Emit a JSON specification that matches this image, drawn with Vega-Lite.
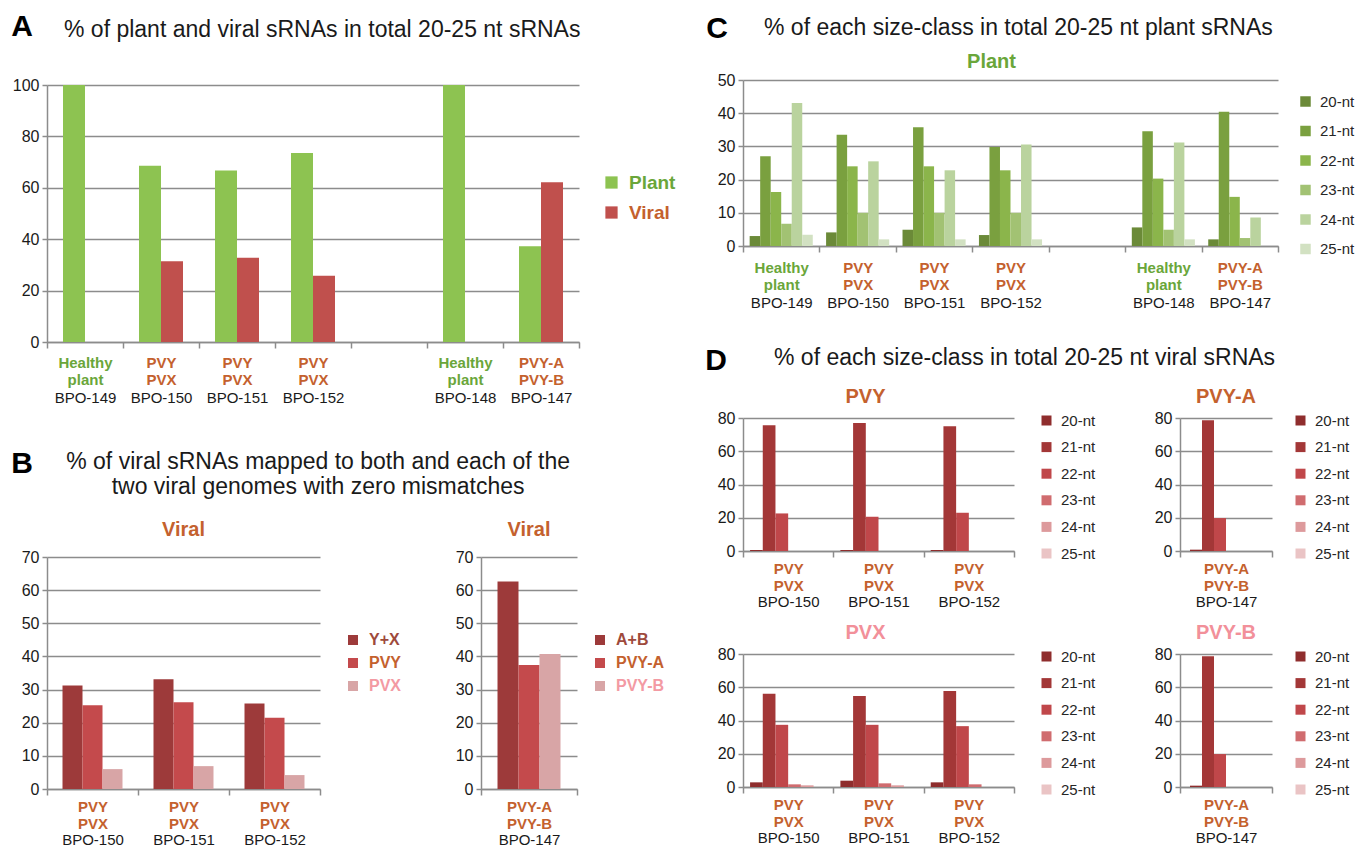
{
  "$schema": "https://vega.github.io/schema/vega-lite/v6.json",
  "background": "white",
  "padding": {"left": 11, "top": 12, "right": 2, "bottom": 2},
  "spacing": 29,
  "resolve": {"scale": {"color": "independent", "xOffset": "independent"}, "legend": {"color": "independent"}},
  "config": {
    "font": "Liberation Sans",
    "view": {"stroke": null},
    "bar": {"stroke": null},
    "axis": {"labelFont": "Liberation Sans", "labelFontSize": 15, "labelColor": "#1a1a1a"},
    "axisX": {"tickBand": "extent", "labelAngle": 0, "grid": false, "domainColor": "#8c8c8c", "domainWidth": 1.5, "tickColor": "#8c8c8c", "tickWidth": 1.5, "tickSize": 6, "labelLineHeight": 17.5},
    "axisY": {"gridColor": "#8c8c8c", "gridWidth": 1.4, "domainColor": "#8c8c8c", "domainWidth": 1.5, "tickColor": "#8c8c8c", "tickWidth": 1.5, "tickSize": 5, "labelPadding": 3, "labelFontSize": 16},
    "legend": {"symbolType": "square", "symbolStrokeWidth": 0, "labelFontSize": 15, "labelColor": "#262626", "orient": "none", "labelFont": "Liberation Sans"},
    "title": {"fontWeight": "bold", "color": "#1a1a1a", "font": "Liberation Sans"}
  },
  "datasets": {
    "A": [
      {"sample": "BPO-149", "series": "Plant", "value": 100}, {"sample": "BPO-149", "series": "Viral", "value": 0},
      {"sample": "BPO-150", "series": "Plant", "value": 68.6}, {"sample": "BPO-150", "series": "Viral", "value": 31.4},
      {"sample": "BPO-151", "series": "Plant", "value": 66.7}, {"sample": "BPO-151", "series": "Viral", "value": 32.8},
      {"sample": "BPO-152", "series": "Plant", "value": 73.5}, {"sample": "BPO-152", "series": "Viral", "value": 25.8},
      {"sample": "BPO-148", "series": "Plant", "value": 100}, {"sample": "BPO-148", "series": "Viral", "value": 0},
      {"sample": "BPO-147", "series": "Plant", "value": 37.3}, {"sample": "BPO-147", "series": "Viral", "value": 62.2}
    ],
    "B1": [
      {"sample": "BPO-150", "series": "Y+X", "value": 31.2}, {"sample": "BPO-150", "series": "PVY", "value": 25.3}, {"sample": "BPO-150", "series": "PVX", "value": 6.0},
      {"sample": "BPO-151", "series": "Y+X", "value": 33.1}, {"sample": "BPO-151", "series": "PVY", "value": 26.2}, {"sample": "BPO-151", "series": "PVX", "value": 6.9},
      {"sample": "BPO-152", "series": "Y+X", "value": 25.8}, {"sample": "BPO-152", "series": "PVY", "value": 21.5}, {"sample": "BPO-152", "series": "PVX", "value": 4.2}
    ],
    "B2": [
      {"sample": "BPO-147", "series": "A+B", "value": 62.6}, {"sample": "BPO-147", "series": "PVY-A", "value": 37.4}, {"sample": "BPO-147", "series": "PVY-B", "value": 40.7}
    ],
    "C": [
      {"sample": "BPO-149", "series": "20-nt", "value": 3.0}, {"sample": "BPO-149", "series": "21-nt", "value": 27.0}, {"sample": "BPO-149", "series": "22-nt", "value": 16.3}, {"sample": "BPO-149", "series": "23-nt", "value": 6.7}, {"sample": "BPO-149", "series": "24-nt", "value": 43.1}, {"sample": "BPO-149", "series": "25-nt", "value": 3.4},
      {"sample": "BPO-150", "series": "20-nt", "value": 4.1}, {"sample": "BPO-150", "series": "21-nt", "value": 33.5}, {"sample": "BPO-150", "series": "22-nt", "value": 24.0}, {"sample": "BPO-150", "series": "23-nt", "value": 10.0}, {"sample": "BPO-150", "series": "24-nt", "value": 25.5}, {"sample": "BPO-150", "series": "25-nt", "value": 2.0},
      {"sample": "BPO-151", "series": "20-nt", "value": 4.9}, {"sample": "BPO-151", "series": "21-nt", "value": 35.8}, {"sample": "BPO-151", "series": "22-nt", "value": 24.0}, {"sample": "BPO-151", "series": "23-nt", "value": 10.0}, {"sample": "BPO-151", "series": "24-nt", "value": 22.8}, {"sample": "BPO-151", "series": "25-nt", "value": 2.0},
      {"sample": "BPO-152", "series": "20-nt", "value": 3.3}, {"sample": "BPO-152", "series": "21-nt", "value": 29.8}, {"sample": "BPO-152", "series": "22-nt", "value": 22.8}, {"sample": "BPO-152", "series": "23-nt", "value": 10.0}, {"sample": "BPO-152", "series": "24-nt", "value": 30.6}, {"sample": "BPO-152", "series": "25-nt", "value": 2.0},
      {"sample": "BPO-148", "series": "20-nt", "value": 5.6}, {"sample": "BPO-148", "series": "21-nt", "value": 34.6}, {"sample": "BPO-148", "series": "22-nt", "value": 20.3}, {"sample": "BPO-148", "series": "23-nt", "value": 4.9}, {"sample": "BPO-148", "series": "24-nt", "value": 31.2}, {"sample": "BPO-148", "series": "25-nt", "value": 2.0},
      {"sample": "BPO-147", "series": "20-nt", "value": 2.0}, {"sample": "BPO-147", "series": "21-nt", "value": 40.4}, {"sample": "BPO-147", "series": "22-nt", "value": 14.8}, {"sample": "BPO-147", "series": "23-nt", "value": 2.4}, {"sample": "BPO-147", "series": "24-nt", "value": 8.6}, {"sample": "BPO-147", "series": "25-nt", "value": 0}
    ],
    "Dpvy": [
      {"sample": "BPO-150", "series": "20-nt", "value": 0.6}, {"sample": "BPO-150", "series": "21-nt", "value": 75.6}, {"sample": "BPO-150", "series": "22-nt", "value": 22.6},
      {"sample": "BPO-151", "series": "20-nt", "value": 0.6}, {"sample": "BPO-151", "series": "21-nt", "value": 77.0}, {"sample": "BPO-151", "series": "22-nt", "value": 20.6},
      {"sample": "BPO-152", "series": "20-nt", "value": 0.6}, {"sample": "BPO-152", "series": "21-nt", "value": 75.0}, {"sample": "BPO-152", "series": "22-nt", "value": 23.0}
    ],
    "Dpvya": [
      {"sample": "BPO-147", "series": "20-nt", "value": 0.8}, {"sample": "BPO-147", "series": "21-nt", "value": 78.6}, {"sample": "BPO-147", "series": "22-nt", "value": 19.8}
    ],
    "Dpvx": [
      {"sample": "BPO-150", "series": "20-nt", "value": 2.8}, {"sample": "BPO-150", "series": "21-nt", "value": 56.1}, {"sample": "BPO-150", "series": "22-nt", "value": 37.4}, {"sample": "BPO-150", "series": "23-nt", "value": 1.6}, {"sample": "BPO-150", "series": "24-nt", "value": 1.0},
      {"sample": "BPO-151", "series": "20-nt", "value": 3.8}, {"sample": "BPO-151", "series": "21-nt", "value": 54.7}, {"sample": "BPO-151", "series": "22-nt", "value": 37.4}, {"sample": "BPO-151", "series": "23-nt", "value": 2.2}, {"sample": "BPO-151", "series": "24-nt", "value": 1.0},
      {"sample": "BPO-152", "series": "20-nt", "value": 2.8}, {"sample": "BPO-152", "series": "21-nt", "value": 57.7}, {"sample": "BPO-152", "series": "22-nt", "value": 36.6}, {"sample": "BPO-152", "series": "23-nt", "value": 1.6}
    ],
    "Dpvyb": [
      {"sample": "BPO-147", "series": "20-nt", "value": 0.8}, {"sample": "BPO-147", "series": "21-nt", "value": 78.6}, {"sample": "BPO-147", "series": "22-nt", "value": 19.8}
    ]
  },
  "hconcat": [
    {
      "spacing": 44,
      "resolve": {"scale": {"color": "independent", "xOffset": "independent"}, "legend": {"color": "independent"}},
      "vconcat": [
        {
          "title": {"text": "A", "anchor": "start", "fontSize": 30, "fontWeight": "bold", "color": "#000000", "offset": 0, "dx": -1, "dy": 23},
          "vconcat": [
            {
              "width": 532, "height": 257,
              "title": {"text": "% of plant and viral sRNAs in total 20-25 nt sRNAs", "anchor": "start", "frame": "group", "dx": 17, "offset": 35, "fontSize": 23, "fontWeight": "normal", "color": "#1a1a1a"},
              "data": {"name": "A"},
              "layer": [
                {
                  "mark": "bar",
                  "encoding": {
                    "x": {"field": "sample", "type": "nominal", "scale": {"domain": ["BPO-149", "BPO-150", "BPO-151", "BPO-152", "gap", "BPO-148", "BPO-147"], "paddingInner": 0, "paddingOuter": 0},
                      "axis": {"title": null, "orient": "bottom", "labelExpr": "datum.value == 'BPO-149' || datum.value == 'BPO-148' ? ['Healthy', 'plant'] : datum.value == 'BPO-147' ? ['PVY-A', 'PVY-B'] : indexof(['BPO-150', 'BPO-151', 'BPO-152'], datum.value) >= 0 ? ['PVY', 'PVX'] : ''",
                        "labelColor": {"condition": {"test": "datum.value == 'BPO-149' || datum.value == 'BPO-148'", "value": "#6aa63a"}, "value": "#c4612e"}, "labelFontWeight": "bold", "labelPadding": 7}},
                    "xOffset": {"field": "series", "type": "nominal", "scale": {"domain": ["Plant", "Viral"], "paddingInner": 0, "paddingOuter": 0.727}},
                    "y": {"field": "value", "type": "quantitative", "scale": {"domain": [0, 100]}, "axis": {"title": null, "values": [0, 20, 40, 60, 80, 100]}},
                    "color": {"field": "series", "type": "nominal", "scale": {"domain": ["Plant", "Viral"], "range": ["#8dc351", "#c0504d"]},
                      "legend": {"title": null, "legendX": 555, "legendY": 88, "labelFontSize": 19, "labelFontWeight": "bold", "symbolSize": 150, "rowPadding": 10, "labelOffset": 8,
                        "labelColor": {"expr": "datum.label == 'Plant' ? '#6aa63a' : '#c4612e'"}}}
                  }
                },
                {
                  "mark": {"type": "rule", "opacity": 0},
                  "encoding": {
                    "x": {"field": "sample", "type": "nominal", "scale": {"domain": ["BPO-149", "BPO-150", "BPO-151", "BPO-152", "gap", "BPO-148", "BPO-147"]},
                      "axis": {"title": null, "orient": "bottom", "domain": false, "ticks": false, "labelExpr": "datum.value == 'gap' ? '' : datum.value", "labelColor": "#1a1a1a", "labelPadding": 48}}
                  }
                }
              ],
              "resolve": {"axis": {"x": "independent"}}
            }
          ]
        },
        {
          "title": {"text": "B", "anchor": "start", "fontSize": 30, "fontWeight": "bold", "color": "#000000", "offset": 0, "dx": -10, "dy": 28},
          "vconcat": [
            {
              "spacing": 53,
              "resolve": {"scale": {"color": "independent", "xOffset": "independent"}, "legend": {"color": "independent"}},
              "title": {"text": ["% of viral sRNAs mapped to both and each of the", "two viral genomes with zero mismatches"], "anchor": "middle", "frame": "bounds", "dx": -25, "offset": 21, "fontSize": 23, "lineHeight": 25, "fontWeight": "normal", "color": "#1a1a1a"},
              "hconcat": [
                {
                  "width": 273, "height": 232,
                  "title": {"text": "Viral", "color": "#c4612e", "fontSize": 20, "offset": 9},
                  "data": {"name": "B1"},
                  "layer": [
                    {
                      "mark": "bar",
                      "encoding": {
                        "x": {"field": "sample", "type": "nominal", "scale": {"domain": ["BPO-150", "BPO-151", "BPO-152"], "paddingInner": 0, "paddingOuter": 0},
                          "axis": {"title": null, "orient": "bottom", "labelExpr": "indexof(['BPO-150', 'BPO-151', 'BPO-152'], datum.value) >= 0 ? ['PVY', 'PVX'] : ''", "labelColor": "#c4612e", "labelFontWeight": "bold", "labelPadding": 4}},
                        "xOffset": {"field": "series", "type": "nominal", "scale": {"domain": ["Y+X", "PVY", "PVX"], "paddingInner": 0, "paddingOuter": 0.775}},
                        "y": {"field": "value", "type": "quantitative", "scale": {"domain": [0, 70]}, "axis": {"title": null, "values": [0, 10, 20, 30, 40, 50, 60, 70]}},
                        "color": {"field": "series", "type": "nominal", "scale": {"domain": ["Y+X", "PVY", "PVX"], "range": ["#9d3a3a", "#c44a4c", "#d8a5a6"]},
                          "legend": {"title": null, "legendX": 298, "legendY": 75, "labelFontSize": 16, "labelFontWeight": "bold", "symbolSize": 100, "rowPadding": 7, "labelOffset": 8,
                            "labelColor": {"expr": "datum.label == 'Y+X' ? '#9e4a3c' : datum.label == 'PVY' ? '#c4612e' : '#f39aa3'"}}}
                      }
                    },
                    {
                      "mark": {"type": "rule", "opacity": 0},
                      "encoding": {
                        "x": {"field": "sample", "type": "nominal", "scale": {"domain": ["BPO-150", "BPO-151", "BPO-152"]},
                          "axis": {"title": null, "orient": "bottom", "domain": false, "ticks": false, "labelColor": "#1a1a1a", "labelPadding": 43}}
                      }
                    }
                  ],
                  "resolve": {"axis": {"x": "independent"}}
                },
                {
                  "width": 96, "height": 232,
                  "title": {"text": "Viral", "color": "#c4612e", "fontSize": 20, "offset": 9},
                  "data": {"name": "B2"},
                  "layer": [
                    {
                      "mark": "bar",
                      "encoding": {
                        "x": {"field": "sample", "type": "nominal", "scale": {"domain": ["BPO-147"], "paddingInner": 0, "paddingOuter": 0},
                          "axis": {"title": null, "orient": "bottom", "labelExpr": "datum.value == 'BPO-147' ? ['PVY-A', 'PVY-B'] : ''", "labelColor": "#c4612e", "labelFontWeight": "bold", "labelPadding": 4}},
                        "xOffset": {"field": "series", "type": "nominal", "scale": {"domain": ["A+B", "PVY-A", "PVY-B"], "paddingInner": 0, "paddingOuter": 0.786}},
                        "y": {"field": "value", "type": "quantitative", "scale": {"domain": [0, 70]}, "axis": {"title": null, "values": [0, 10, 20, 30, 40, 50, 60, 70]}},
                        "color": {"field": "series", "type": "nominal", "scale": {"domain": ["A+B", "PVY-A", "PVY-B"], "range": ["#9d3a3a", "#c44a4c", "#d8a5a6"]},
                          "legend": {"title": null, "legendX": 111, "legendY": 75, "labelFontSize": 16, "labelFontWeight": "bold", "symbolSize": 100, "rowPadding": 7, "labelOffset": 8,
                            "labelColor": {"expr": "datum.label == 'A+B' ? '#9e4a3c' : datum.label == 'PVY-A' ? '#c4612e' : '#f39aa3'"}}}
                      }
                    },
                    {
                      "mark": {"type": "rule", "opacity": 0},
                      "encoding": {
                        "x": {"field": "sample", "type": "nominal", "scale": {"domain": ["BPO-147"]},
                          "axis": {"title": null, "orient": "bottom", "domain": false, "ticks": false, "labelColor": "#1a1a1a", "labelPadding": 43}}
                      }
                    }
                  ],
                  "resolve": {"axis": {"x": "independent"}}
                }
              ]
            }
          ]
        }
      ]
    },
    {
      "spacing": 36,
      "resolve": {"scale": {"color": "independent", "xOffset": "independent"}, "legend": {"color": "independent"}},
      "vconcat": [
        {
          "title": {"text": "C", "anchor": "start", "fontSize": 30, "fontWeight": "bold", "color": "#000000", "offset": -5, "dx": -11, "dy": 22},
          "vconcat": [
            {
              "title": {"text": "% of each size-class in total 20-25 nt plant sRNAs", "anchor": "start", "frame": "group", "dx": 21, "offset": 12, "fontSize": 23, "fontWeight": "normal", "color": "#1a1a1a"},
              "vconcat": [
                {
                  "width": 535, "height": 161,
                  "title": {"text": "Plant", "color": "#6aa63a", "fontSize": 20, "offset": 0, "dx": -19},
                  "data": {"name": "C"},
                  "layer": [
                    {
                      "mark": "bar",
                      "encoding": {
                        "x": {"field": "sample", "type": "nominal", "scale": {"domain": ["BPO-149", "BPO-150", "BPO-151", "BPO-152", "gap", "BPO-148", "BPO-147"], "paddingInner": 0, "paddingOuter": 0},
                          "axis": {"title": null, "orient": "bottom", "labelExpr": "datum.value == 'BPO-149' || datum.value == 'BPO-148' ? ['Healthy', 'plant'] : datum.value == 'BPO-147' ? ['PVY-A', 'PVY-B'] : indexof(['BPO-150', 'BPO-151', 'BPO-152'], datum.value) >= 0 ? ['PVY', 'PVX'] : ''",
                            "labelColor": {"condition": {"test": "datum.value == 'BPO-149' || datum.value == 'BPO-148'", "value": "#6aa63a"}, "value": "#c4612e"}, "labelFontWeight": "bold", "labelPadding": 8}},
                        "xOffset": {"field": "series", "type": "nominal", "scale": {"domain": ["20-nt", "21-nt", "22-nt", "23-nt", "24-nt", "25-nt"], "paddingInner": 0, "paddingOuter": 0.633}},
                        "y": {"field": "value", "type": "quantitative", "scale": {"domain": [0, 50], "range": [161, -5]}, "axis": {"title": null, "values": [0, 10, 20, 30, 40, 50]}},
                        "color": {"field": "series", "type": "nominal", "scale": {"domain": ["20-nt", "21-nt", "22-nt", "23-nt", "24-nt", "25-nt"], "range": ["#6b8a38", "#7aa03f", "#8bb54b", "#a2c273", "#bad39e", "#d2e1c2"]},
                          "legend": {"title": null, "legendX": 555, "legendY": 9, "symbolSize": 110, "rowPadding": 13.5, "labelOffset": 7}}
                      }
                    },
                    {
                      "mark": {"type": "rule", "opacity": 0},
                      "encoding": {
                        "x": {"field": "sample", "type": "nominal", "scale": {"domain": ["BPO-149", "BPO-150", "BPO-151", "BPO-152", "gap", "BPO-148", "BPO-147"]},
                          "axis": {"title": null, "orient": "bottom", "domain": false, "ticks": false, "labelExpr": "datum.value == 'gap' ? '' : datum.value", "labelColor": "#1a1a1a", "labelPadding": 49}}
                      }
                    }
                  ],
                  "resolve": {"axis": {"x": "independent"}}
                }
              ]
            }
          ]
        },
        {
          "title": {"text": "D", "anchor": "start", "fontSize": 30, "fontWeight": "bold", "color": "#000000", "offset": 0, "dx": -12, "dy": 29},
          "vconcat": [
            {
              "spacing": 14,
              "resolve": {"scale": {"color": "independent", "xOffset": "independent"}, "legend": {"color": "independent"}},
              "title": {"text": "% of each size-class in total 20-25 nt viral sRNAs", "anchor": "start", "frame": "group", "dx": 31, "offset": 17, "fontSize": 23, "fontWeight": "normal", "color": "#1a1a1a"},
              "vconcat": [
                {
                  "spacing": 58,
                  "resolve": {"scale": {"color": "independent", "xOffset": "independent"}, "legend": {"color": "independent"}},
                  "hconcat": [
                    {
                      "width": 271, "height": 133,
                      "title": {"text": "PVY", "color": "#c4612e", "fontSize": 20, "offset": 3, "dx": -13},
                      "data": {"name": "Dpvy"},
                      "layer": [
                        {
                          "mark": "bar",
                          "encoding": {
                            "x": {"field": "sample", "type": "nominal", "scale": {"domain": ["BPO-150", "BPO-151", "BPO-152"], "paddingInner": 0, "paddingOuter": 0},
                              "axis": {"title": null, "orient": "bottom", "labelExpr": "indexof(['BPO-150', 'BPO-151', 'BPO-152'], datum.value) >= 0 ? ['PVY', 'PVX'] : ''", "labelColor": "#c4612e", "labelFontWeight": "bold", "labelPadding": 4, "labelLineHeight": 17}},
                            "xOffset": {"field": "series", "type": "nominal", "scale": {"domain": ["20-nt", "21-nt", "22-nt", "23-nt", "24-nt", "25-nt"], "paddingInner": 0, "paddingOuter": 0.556}},
                            "y": {"field": "value", "type": "quantitative", "scale": {"domain": [0, 80]}, "axis": {"title": null, "values": [0, 20, 40, 60, 80]}},
                            "color": {"field": "series", "type": "nominal", "scale": {"domain": ["20-nt", "21-nt", "22-nt", "23-nt", "24-nt", "25-nt"], "range": ["#8f2d2d", "#a33737", "#c0474a", "#d06c6f", "#dd9a9c", "#eac4c5"]},
                              "legend": {"title": null, "legendX": 296, "legendY": -5, "symbolSize": 100, "rowPadding": 10.6, "labelOffset": 7}}
                          }
                        },
                        {
                          "mark": {"type": "rule", "opacity": 0},
                          "encoding": {
                            "x": {"field": "sample", "type": "nominal", "scale": {"domain": ["BPO-150", "BPO-151", "BPO-152"]},
                              "axis": {"title": null, "orient": "bottom", "domain": false, "ticks": false, "labelColor": "#1a1a1a", "labelPadding": 43}}
                          }
                        }
                      ],
                      "resolve": {"axis": {"x": "independent"}}
                    },
                    {
                      "width": 92, "height": 133,
                      "title": {"text": "PVY-A", "color": "#c4612e", "fontSize": 20, "offset": 3},
                      "data": {"name": "Dpvya"},
                      "layer": [
                        {
                          "mark": "bar",
                          "encoding": {
                            "x": {"field": "sample", "type": "nominal", "scale": {"domain": ["BPO-147"], "paddingInner": 0, "paddingOuter": 0},
                              "axis": {"title": null, "orient": "bottom", "labelExpr": "datum.value == 'BPO-147' ? ['PVY-A', 'PVY-B'] : ''", "labelColor": "#c4612e", "labelFontWeight": "bold", "labelPadding": 4, "labelLineHeight": 17}},
                            "xOffset": {"field": "series", "type": "nominal", "scale": {"domain": ["20-nt", "21-nt", "22-nt", "23-nt", "24-nt", "25-nt"], "paddingInner": 0, "paddingOuter": 0.833}},
                            "y": {"field": "value", "type": "quantitative", "scale": {"domain": [0, 80]}, "axis": {"title": null, "values": [0, 20, 40, 60, 80]}},
                            "color": {"field": "series", "type": "nominal", "scale": {"domain": ["20-nt", "21-nt", "22-nt", "23-nt", "24-nt", "25-nt"], "range": ["#8f2d2d", "#a33737", "#c0474a", "#d06c6f", "#dd9a9c", "#eac4c5"]},
                              "legend": {"title": null, "legendX": 113, "legendY": -5, "symbolSize": 100, "rowPadding": 10.6, "labelOffset": 7}}
                          }
                        },
                        {
                          "mark": {"type": "rule", "opacity": 0},
                          "encoding": {
                            "x": {"field": "sample", "type": "nominal", "scale": {"domain": ["BPO-147"]},
                              "axis": {"title": null, "orient": "bottom", "domain": false, "ticks": false, "labelColor": "#1a1a1a", "labelPadding": 43}}
                          }
                        }
                      ],
                      "resolve": {"axis": {"x": "independent"}}
                    }
                  ]
                },
                {
                  "spacing": 58,
                  "resolve": {"scale": {"color": "independent", "xOffset": "independent"}, "legend": {"color": "independent"}},
                  "hconcat": [
                    {
                      "width": 271, "height": 133,
                      "title": {"text": "PVX", "color": "#f2909a", "fontSize": 20, "offset": 3, "dx": -13},
                      "data": {"name": "Dpvx"},
                      "layer": [
                        {
                          "mark": "bar",
                          "encoding": {
                            "x": {"field": "sample", "type": "nominal", "scale": {"domain": ["BPO-150", "BPO-151", "BPO-152"], "paddingInner": 0, "paddingOuter": 0},
                              "axis": {"title": null, "orient": "bottom", "labelExpr": "indexof(['BPO-150', 'BPO-151', 'BPO-152'], datum.value) >= 0 ? ['PVY', 'PVX'] : ''", "labelColor": "#c4612e", "labelFontWeight": "bold", "labelPadding": 4, "labelLineHeight": 17}},
                            "xOffset": {"field": "series", "type": "nominal", "scale": {"domain": ["20-nt", "21-nt", "22-nt", "23-nt", "24-nt", "25-nt"], "paddingInner": 0, "paddingOuter": 0.556}},
                            "y": {"field": "value", "type": "quantitative", "scale": {"domain": [0, 80]}, "axis": {"title": null, "values": [0, 20, 40, 60, 80]}},
                            "color": {"field": "series", "type": "nominal", "scale": {"domain": ["20-nt", "21-nt", "22-nt", "23-nt", "24-nt", "25-nt"], "range": ["#8f2d2d", "#a33737", "#c0474a", "#d06c6f", "#dd9a9c", "#eac4c5"]},
                              "legend": {"title": null, "legendX": 296, "legendY": -5, "symbolSize": 100, "rowPadding": 10.6, "labelOffset": 7}}
                          }
                        },
                        {
                          "mark": {"type": "rule", "opacity": 0},
                          "encoding": {
                            "x": {"field": "sample", "type": "nominal", "scale": {"domain": ["BPO-150", "BPO-151", "BPO-152"]},
                              "axis": {"title": null, "orient": "bottom", "domain": false, "ticks": false, "labelColor": "#1a1a1a", "labelPadding": 43}}
                          }
                        }
                      ],
                      "resolve": {"axis": {"x": "independent"}}
                    },
                    {
                      "width": 92, "height": 133,
                      "title": {"text": "PVY-B", "color": "#f2909a", "fontSize": 20, "offset": 3},
                      "data": {"name": "Dpvyb"},
                      "layer": [
                        {
                          "mark": "bar",
                          "encoding": {
                            "x": {"field": "sample", "type": "nominal", "scale": {"domain": ["BPO-147"], "paddingInner": 0, "paddingOuter": 0},
                              "axis": {"title": null, "orient": "bottom", "labelExpr": "datum.value == 'BPO-147' ? ['PVY-A', 'PVY-B'] : ''", "labelColor": "#c4612e", "labelFontWeight": "bold", "labelPadding": 4, "labelLineHeight": 17}},
                            "xOffset": {"field": "series", "type": "nominal", "scale": {"domain": ["20-nt", "21-nt", "22-nt", "23-nt", "24-nt", "25-nt"], "paddingInner": 0, "paddingOuter": 0.833}},
                            "y": {"field": "value", "type": "quantitative", "scale": {"domain": [0, 80]}, "axis": {"title": null, "values": [0, 20, 40, 60, 80]}},
                            "color": {"field": "series", "type": "nominal", "scale": {"domain": ["20-nt", "21-nt", "22-nt", "23-nt", "24-nt", "25-nt"], "range": ["#8f2d2d", "#a33737", "#c0474a", "#d06c6f", "#dd9a9c", "#eac4c5"]},
                              "legend": {"title": null, "legendX": 113, "legendY": -5, "symbolSize": 100, "rowPadding": 10.6, "labelOffset": 7}}
                          }
                        },
                        {
                          "mark": {"type": "rule", "opacity": 0},
                          "encoding": {
                            "x": {"field": "sample", "type": "nominal", "scale": {"domain": ["BPO-147"]},
                              "axis": {"title": null, "orient": "bottom", "domain": false, "ticks": false, "labelColor": "#1a1a1a", "labelPadding": 43}}
                          }
                        }
                      ],
                      "resolve": {"axis": {"x": "independent"}}
                    }
                  ]
                }
              ]
            }
          ]
        }
      ]
    }
  ]
}
